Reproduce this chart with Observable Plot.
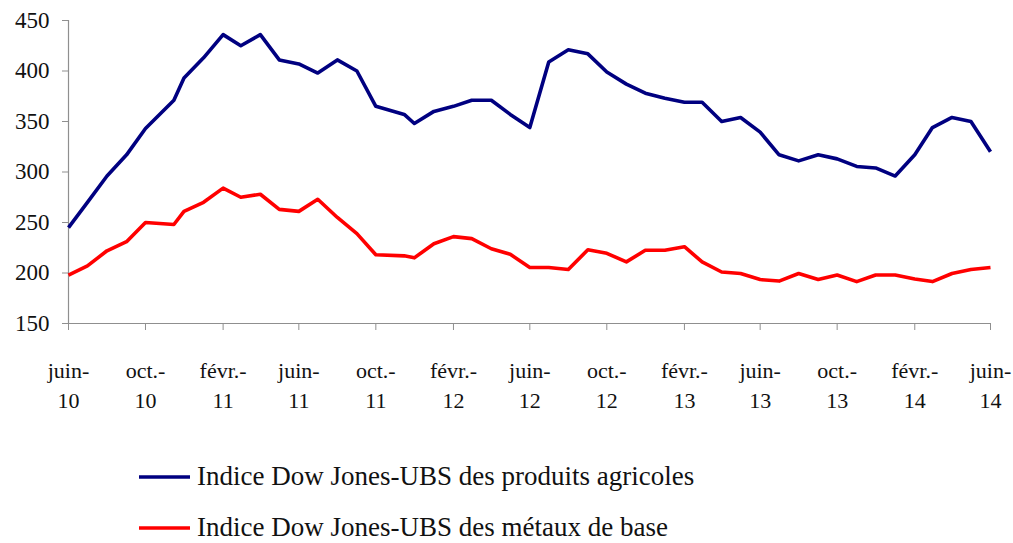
<!DOCTYPE html>
<html>
<head>
<meta charset="utf-8">
<script src="https://cdn.jsdelivr.net/npm/d3@7"></script>
<script src="https://cdn.jsdelivr.net/npm/@observablehq/plot@0.6"></script>
<style>
  body { margin: 0; background: #fff; font-family: "Liberation Serif", serif; }
  #legend { padding-top: 26px; padding-left: 139px; }
  .row { display: flex; align-items: center; height: 51px; }
  .row svg { margin-right: 7px; }
  .row span { font-size: 27px; color: #111; }
</style>
</head>
<body>
<div id="chart"></div>
<div id="legend"></div>
<script>
// Dates of the observations
const dates = [
  "2010-06-01","2010-07-01","2010-08-01","2010-09-01","2010-10-01","2010-11-15","2010-12-01",
  "2011-01-01","2011-02-01","2011-03-01","2011-04-01","2011-05-01","2011-06-01","2011-07-01",
  "2011-08-01","2011-09-01","2011-10-01","2011-11-15","2011-12-01",
  "2012-01-01","2012-02-01","2012-03-01","2012-04-01","2012-05-01","2012-06-01","2012-07-01",
  "2012-08-01","2012-09-01","2012-10-01","2012-11-01","2012-12-01",
  "2013-01-01","2013-02-01","2013-03-01","2013-04-01","2013-05-01","2013-06-01","2013-07-01",
  "2013-08-01","2013-09-01","2013-10-01","2013-11-01","2013-12-01",
  "2014-01-01","2014-02-01","2014-03-01","2014-04-01","2014-05-01","2014-06-01"
];
// Indice Dow Jones-UBS des produits agricoles
const agricoles = [
  245, 270, 296, 317, 343, 371, 393,
  413, 436, 425, 436, 411, 407, 398,
  411, 400, 365, 357, 348,
  360, 365, 371, 371, 357, 344, 409,
  421, 417, 399, 387, 378,
  373, 369, 369, 350, 354, 339.5, 317,
  311, 317, 313, 305.5, 304,
  296, 317, 344, 354, 350, 320
];
// Indice Dow Jones-UBS des métaux de base
const metaux = [
  198, 207, 222, 231, 250, 248, 261,
  270, 284, 275, 278, 263, 261, 273,
  255, 239, 218, 217, 215,
  229, 236, 234, 224, 218.5, 205.5, 205.5,
  203.5, 223, 219.5, 211, 222.5,
  222.5, 226, 211, 201, 199.5, 193.5, 192,
  199.5, 193.5, 198, 191.5, 198,
  198, 194, 191.5, 199.5, 203.5, 205.5
];
const seriesNames = [
  "Indice Dow Jones-UBS des produits agricoles",
  "Indice Dow Jones-UBS des métaux de base"
];
const seriesColors = ["#000080", "#ff0000"];
const yTicks = [150, 200, 250, 300, 350, 400, 450];
const xTickDates = [
  "2010-06-01","2010-10-01","2011-02-01","2011-06-01","2011-10-01","2012-02-01","2012-06-01",
  "2012-10-01","2013-02-01","2013-06-01","2013-10-01","2014-02-01","2014-06-01"
];
const xTickLabels = [
  "juin-\n10","oct.-\n10","févr.-\n11","juin-\n11","oct.-\n11","févr.-\n12","juin-\n12",
  "oct.-\n12","févr.-\n13","juin-\n13","oct.-\n13","févr.-\n14","juin-\n14"
];

const parse = d3.utcParse("%Y-%m-%d");
const table = [];
dates.forEach((d, i) => {
  table.push({date: parse(d), value: agricoles[i], series: seriesNames[0]});
});
dates.forEach((d, i) => {
  table.push({date: parse(d), value: metaux[i], series: seriesNames[1]});
});
const tickDates = xTickDates.map(parse);
const labelMap = new Map(tickDates.map((d, i) => [+d, xTickLabels[i]]));
const x0 = parse(dates[0]), x1 = parse(dates[dates.length - 1]);
const axisGray = "#8f8f8f";

const chart = Plot.plot({
  width: 1013,
  height: 425,
  marginLeft: 68,
  marginRight: 23,
  marginTop: 20,
  marginBottom: 102,
  style: {fontFamily: "'Liberation Serif', serif", fontSize: "22px", color: "#111", background: "#fff"},
  x: {type: "utc", domain: [x0, x1]},
  y: {domain: [150, 450]},
  color: {domain: seriesNames, range: seriesColors},
  marks: [
    Plot.ruleX([x0], {stroke: axisGray, strokeWidth: 1.2}),
    Plot.ruleY([150], {stroke: axisGray, strokeWidth: 1.2}),
    Plot.axisY({ticks: yTicks, tickSize: 6, tickPadding: 13, stroke: axisGray, fill: "#111", fontSize: 23, label: null}),
    Plot.axisX({ticks: tickDates, tickSize: 7, tickPadding: 26, stroke: axisGray, fill: "#111", fontSize: 22, lineHeight: 1.36,
      tickFormat: d => labelMap.get(+d), label: null}),
    Plot.line(table, {x: "date", y: "value", z: "series", stroke: "series", strokeWidth: 3.6, strokeLinejoin: "round", strokeLinecap: "butt"})
  ]
});
document.getElementById("chart").appendChild(chart);

const legend = document.getElementById("legend");
seriesNames.forEach((name, i) => {
  const row = document.createElement("div");
  row.className = "row";
  row.innerHTML = `<svg width="51" height="10"><line x1="0" x2="51" y1="5" y2="5" stroke="${seriesColors[i]}" stroke-width="3.5"/></svg><span>${name}</span>`;
  legend.appendChild(row);
});
</script>
</body>
</html>
